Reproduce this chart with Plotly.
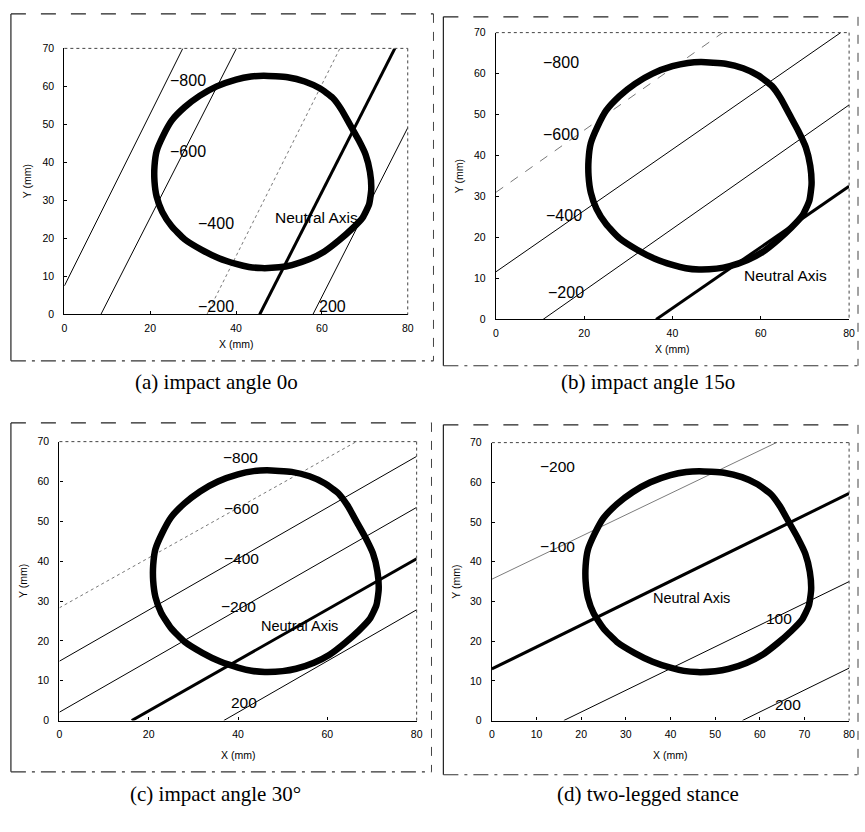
import plotly.graph_objects as go

W, H = 865, 832

# ---------------- data ----------------
# bone cross-section outline (mm)
CONTOUR_X = [46.5, 52, 56, 59.5, 62.5, 64.5, 66.5, 68.5, 70.2, 71.2, 71.5, 71, 69.5, 67, 64,
             60.5, 57, 53, 50, 46, 43, 40, 36, 32, 28, 25, 22.8, 21.5, 21, 21, 21.5, 23, 25,
             28, 31.5, 35.5, 40, 43.5, 46.5]
CONTOUR_Y = [62.8, 62.4, 61.3, 59.5, 57, 54, 50, 46, 42, 37.5, 33, 29, 25.5, 22.5, 19.5,
             16.5, 14.5, 13, 12.4, 12.2, 12.5, 13.3, 14.8, 17, 19.8, 23.2, 27, 31, 35, 39, 43,
             47, 51, 54.5, 57.5, 60, 61.8, 62.6, 62.8]

# stress iso-lines: endpoints (x0, y0, x1, y1) per panel
A_LINES = [(0, 7.5, 27.6, 70), (8.5, 0, 40.1, 70), (33.2, 0, 64.2, 70),
           (45.5, 0, 77.0, 70), (57.9, 0, 81.2, 51.8)]
B_LINES = [(0, 31.0, 51.4, 70), (0, 11.6, 78.1, 70), (10.7, 0, 80.2, 52.5),
           (36.3, 0, 80, 32.5)]
C_LINES = [(0, 28.3, 66.5, 70), (0, 14.9, 80, 66.3), (0, 2.1, 80, 53.5),
           (16.2, 0, 80, 40.6), (36.8, 0, 80, 27.8)]
D_LINES = [(0, 35.6, 63.7, 70), (0, 13.0, 80, 57.2), (16.1, 0, 80, 35.0),
           (56.1, 0, 80, 13.2)]

# stress labels per panel
A_LABELS = ["−800", "−600", "−400", "−200", "200", "Neutral Axis"]
A_LAB_X = [28.7, 28.7, 35.3, 35.3, 62.5, 58.8]
A_LAB_Y = [61.5, 42.8, 23.9, 2.1, 2.1, 25.4]
B_LABELS = ["−800", "−600", "−400", "−200", "Neutral Axis"]
B_LAB_X = [14.8, 14.8, 15.5, 15.9, 65.6]
B_LAB_Y = [62.8, 45.1, 25.3, 6.6, 10.8]
C_LABELS = ["−800", "−600", "−400", "−200", "200", "Neutral Axis"]
C_LAB_X = [40.5, 40.7, 40.7, 40.0, 41.4, 53.8]
C_LAB_Y = [66.0, 53.2, 40.7, 28.5, 4.5, 23.7]
D_LABELS = ["−200", "−100", "Neutral Axis", "100", "200"]
D_LAB_X = [14.7, 14.7, 44.6, 64.2, 66.3]
D_LAB_Y = [63.9, 43.9, 30.8, 25.7, 4.1]

CAPTIONS = ["(a) impact angle 0o", "(b) impact angle 15o",
            "(c) impact angle 30°", "(d) two-legged stance"]

X_TICKS_A = [0, 20, 40, 60, 80]
X_TICKS_D = [0, 10, 20, 30, 40, 50, 60, 70, 80]
Y_TICKS = [0, 10, 20, 30, 40, 50, 60, 70]

# ---------------- layout helpers ----------------
def px(x):
    return x / W

def py(y):
    return 1 - y / H

# plot areas in pixels: (left, right, top, bottom)
AREAS = [(62, 409, 43, 313), (498, 855, 27, 318), (57, 418, 442, 725), (494, 855, 443, 725)]
FRAMES = [(8, 435, 8, 360), (445, 864, 11, 365), (8, 433, 423, 777), (445, 864, 425, 780)]
CAPTION_POS = [(216, 381), (652, 381), (215, 800), (652, 800)]
LABEL_SIZES = [(16, 15.5), (16, 15.5), (15.5, 14.5), (15.5, 14.5)]

STYLES = [
    ["solid", "solid", "dot", "thick", "solid"],
    ["dash", "solid", "solid", "thick"],
    ["dot", "solid", "solid", "thick", "solid"],
    ["thin", "thick", "solid", "solid"],
]

fig = go.Figure()
lines_all = [A_LINES, B_LINES, C_LINES, D_LINES]
labels_all = [(A_LABELS, A_LAB_X, A_LAB_Y), (B_LABELS, B_LAB_X, B_LAB_Y),
              (C_LABELS, C_LAB_X, C_LAB_Y), (D_LABELS, D_LAB_X, D_LAB_Y)]

annotations = []
shapes = []
for i in range(4):
    sfx = "" if i == 0 else str(i + 1)
    xr, yr = "x" + sfx, "y" + sfx
    for (x0, y0, x1, y1), st in zip(lines_all[i], STYLES[i]):
        if st == "thick":
            ln = dict(color="black", width=3)
        elif st == "dot":
            ln = dict(color="#555", width=0.8, dash="dot")
        elif st == "dash":
            ln = dict(color="#555", width=0.8, dash="dash")
        elif st == "thin":
            ln = dict(color="#444", width=0.7)
        else:
            ln = dict(color="black", width=1)
        fig.add_trace(go.Scatter(x=[x0, x1], y=[y0, y1], mode="lines", line=ln,
                                 xaxis=xr, yaxis=yr, showlegend=False, hoverinfo="skip"))
    fig.add_trace(go.Scatter(x=CONTOUR_X, y=CONTOUR_Y, mode="lines",
                             line=dict(color="black", width=6.5, shape="spline", smoothing=0.5),
                             xaxis=xr, yaxis=yr, showlegend=False, hoverinfo="skip"))
    texts, lx, ly = labels_all[i]
    ns, nn = LABEL_SIZES[i]
    for t, x, y in zip(texts, lx, ly):
        annotations.append(dict(x=x, y=y, xref=xr, yref=yr, text=t, showarrow=False,
                                xanchor="center", yanchor="middle",
                                font=dict(family="Liberation Sans", size=nn if t == "Neutral Axis" else ns,
                                          color="black")))
    l, r, t_, b = AREAS[i]
    xtv = X_TICKS_D if i == 3 else X_TICKS_A
    axcommon = dict(showgrid=False, zeroline=False, showline=True, linecolor="black", linewidth=1.2,
                    ticks="inside", ticklen=3, tickcolor="black", tickwidth=1,
                    tickfont=dict(family="Liberation Sans", size=10.5, color="black"))
    fig.update_layout(**{
        "xaxis" + sfx: dict(domain=[px(l), px(r)], range=[0, 80], tickvals=xtv, anchor=yr,
                            ticklabelstandoff=4, **axcommon),
        "yaxis" + sfx: dict(domain=[py(b), py(t_)], range=[0, 70], tickvals=Y_TICKS, anchor=xr,
                            ticklabelstandoff=7, **axcommon),
    })
    # top & right borders of plot area (thin dotted)
    shapes.append(dict(type="line", xref="paper", yref="paper", x0=px(l), x1=px(r), y0=py(t_), y1=py(t_),
                       line=dict(color="#444", width=1, dash="dot")))
    shapes.append(dict(type="line", xref="paper", yref="paper", x0=px(r), x1=px(r), y0=py(t_), y1=py(b),
                       line=dict(color="#444", width=1, dash="dot")))
    # axis titles
    annotations.append(dict(x=px((l + r) / 2), y=py(b + 30 if i < 2 else b + 35), xref="paper", yref="paper",
                            text="X (mm)", showarrow=False, xanchor="center", yanchor="middle",
                            font=dict(family="Liberation Sans", size=10.5, color="black")))
    annotations.append(dict(x=px(l - 37), y=py((t_ + b) / 2), xref="paper", yref="paper",
                            text="Y (mm)", showarrow=False, textangle=-90, xanchor="center", yanchor="middle",
                            font=dict(family="Liberation Sans", size=10.5, color="black")))
    # outer frame
    fl, fr, ft, fb = FRAMES[i]
    shapes.append(dict(type="line", xref="paper", yref="paper", x0=px(fl), x1=px(fl), y0=py(ft), y1=py(fb),
                       line=dict(color="#222", width=1.2)))
    shapes.append(dict(type="line", xref="paper", yref="paper", x0=px(fl), x1=px(fr), y0=py(ft), y1=py(ft),
                       line=dict(color="#222", width=1.2, dash="longdash")))
    shapes.append(dict(type="line", xref="paper", yref="paper", x0=px(fr), x1=px(fr), y0=py(ft), y1=py(fb),
                       line=dict(color="#444", width=1, dash="dash")))
    shapes.append(dict(type="line", xref="paper", yref="paper", x0=px(fl), x1=px(fr), y0=py(fb), y1=py(fb),
                       line=dict(color="#333", width=1.2, dash="longdashdot")))
    # caption
    cx, cy = CAPTION_POS[i]
    annotations.append(dict(x=px(cx), y=py(cy), xref="paper", yref="paper", text=CAPTIONS[i],
                            showarrow=False, xanchor="center", yanchor="middle",
                            font=dict(family="Liberation Serif", size=21, color="black")))

fig.update_layout(width=W, height=H, margin=dict(l=0, r=0, t=0, b=0),
                  paper_bgcolor="white", plot_bgcolor="white",
                  annotations=annotations, shapes=shapes, showlegend=False)

fig.write_html("out.html")
